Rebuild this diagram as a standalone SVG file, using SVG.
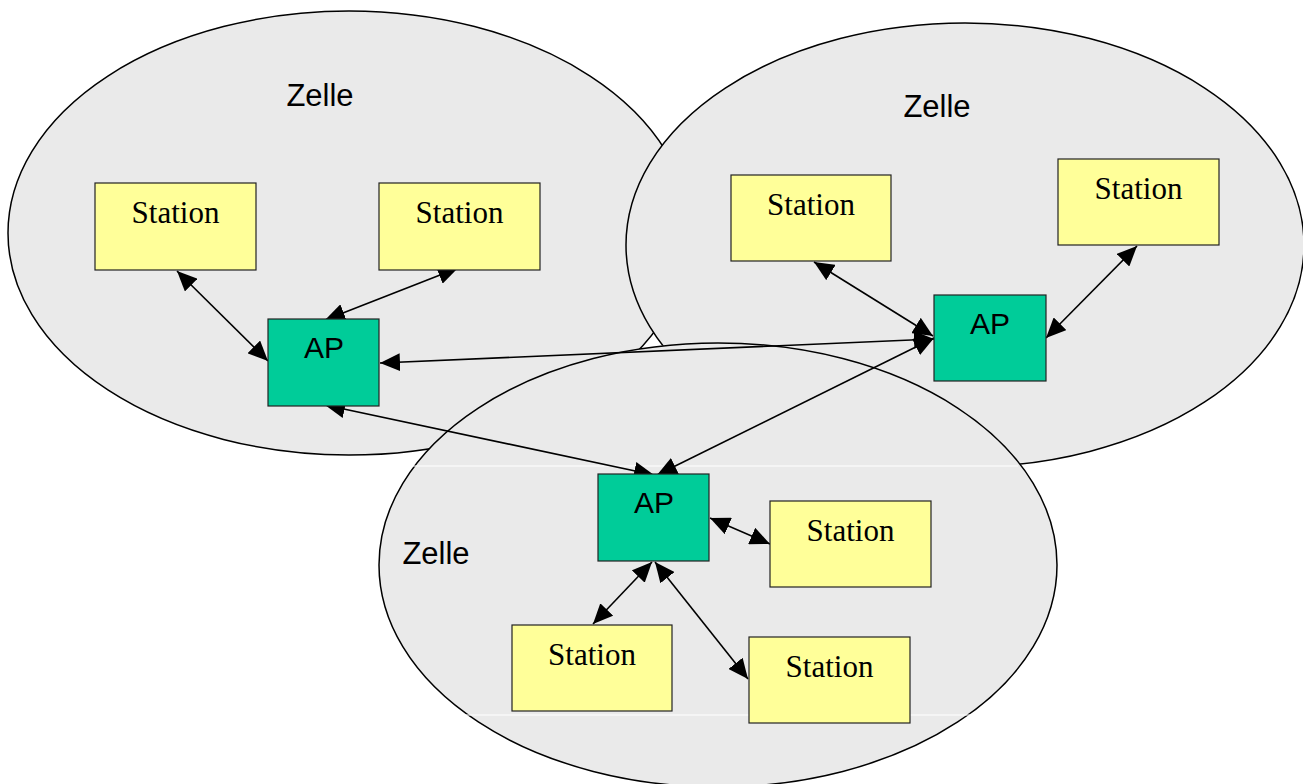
<svg xmlns="http://www.w3.org/2000/svg" width="1303" height="784" viewBox="0 0 1303 784">
  <style>
    .cell { fill: #EAEAEA; stroke: #000; stroke-width: 1.5; }
    .station rect { fill: #FFFF99; stroke: #222; stroke-width: 1.2; }
    .ap rect { fill: #00CC99; stroke: #222; stroke-width: 1.2; }
    .station text { font-family: "Liberation Serif", "Times New Roman", serif; font-size: 31px; text-anchor: middle; fill: #000; }
    .ap text { font-family: "Liberation Sans", Arial, sans-serif; font-size: 30px; text-anchor: middle; fill: #000; }
    .label { font-family: "Liberation Sans", Arial, sans-serif; font-size: 31px; text-anchor: middle; fill: #000; }
    .link { stroke: #000; stroke-width: 1.6; fill: none; marker-start: url(#head); marker-end: url(#head); }
    .seam { stroke: #FFF; stroke-width: 1.2; }
  </style>
  <defs>
    <marker id="head" viewBox="0 0 20 18" refX="20" refY="9" markerWidth="20" markerHeight="18" markerUnits="userSpaceOnUse" orient="auto-start-reverse">
      <path d="M0,0 L20,9 L0,18 Z" fill="#000"/>
    </marker>
  </defs>

  <!-- cells -->
  <g id="cell-left">
    <ellipse class="cell" cx="349" cy="233" rx="341" ry="222"/>
    <text class="label" x="320" y="106">Zelle</text>
  </g>
  <g id="cell-right">
    <ellipse class="cell" cx="965" cy="245" rx="339" ry="222"/>
    <text class="label" x="937" y="117">Zelle</text>
  </g>
  <g id="cell-bottom">
    <ellipse class="cell" cx="718" cy="565" rx="339" ry="222"/>
    <text class="label" x="436" y="564">Zelle</text>
  </g>
  <line class="seam" x1="404" y1="466" x2="1018" y2="466"/>
  <line class="seam" x1="384" y1="715" x2="1000" y2="715"/>

  <!-- connectors -->
  <g id="connectors">
    <line class="link" x1="177" y1="271" x2="268" y2="361"/>
    <line class="link" x1="458" y1="268" x2="325" y2="320"/>
    <line class="link" x1="934" y1="339" x2="380" y2="363"/>
    <line class="link" x1="325" y1="405" x2="654" y2="475"/>
    <line class="link" x1="934" y1="338" x2="657" y2="475"/>
    <line class="link" x1="814" y1="262" x2="933" y2="336"/>
    <line class="link" x1="1137" y1="246" x2="1046" y2="338"/>
    <line class="link" x1="710" y1="518" x2="770" y2="544"/>
    <line class="link" x1="652" y1="562" x2="593" y2="624"/>
    <line class="link" x1="655" y1="562" x2="748" y2="679"/>
  </g>

  <!-- left cell nodes -->
  <g id="station-l1" class="station">
    <rect x="95" y="183" width="161" height="87"/>
    <text x="175.5" y="223">Station</text>
  </g>
  <g id="station-l2" class="station">
    <rect x="379" y="183" width="161" height="87"/>
    <text x="459.5" y="223">Station</text>
  </g>
  <g id="ap-left" class="ap">
    <rect x="268" y="319" width="111" height="87"/>
    <text x="324" y="358">AP</text>
  </g>

  <!-- right cell nodes -->
  <g id="station-r1" class="station">
    <rect x="731" y="175" width="160" height="86"/>
    <text x="811" y="215">Station</text>
  </g>
  <g id="station-r2" class="station">
    <rect x="1058" y="159" width="161" height="86"/>
    <text x="1138.5" y="199">Station</text>
  </g>
  <g id="ap-right" class="ap">
    <rect x="934" y="295" width="112" height="86"/>
    <text x="990" y="334">AP</text>
  </g>

  <!-- bottom cell nodes -->
  <g id="ap-bottom" class="ap">
    <rect x="598" y="474" width="111" height="87"/>
    <text x="654" y="513">AP</text>
  </g>
  <g id="station-b1" class="station">
    <rect x="770" y="501" width="161" height="86"/>
    <text x="850.5" y="541">Station</text>
  </g>
  <g id="station-b2" class="station">
    <rect x="512" y="625" width="160" height="86"/>
    <text x="592" y="665">Station</text>
  </g>
  <g id="station-b3" class="station">
    <rect x="749" y="637" width="161" height="86"/>
    <text x="829.5" y="677">Station</text>
  </g>
</svg>
